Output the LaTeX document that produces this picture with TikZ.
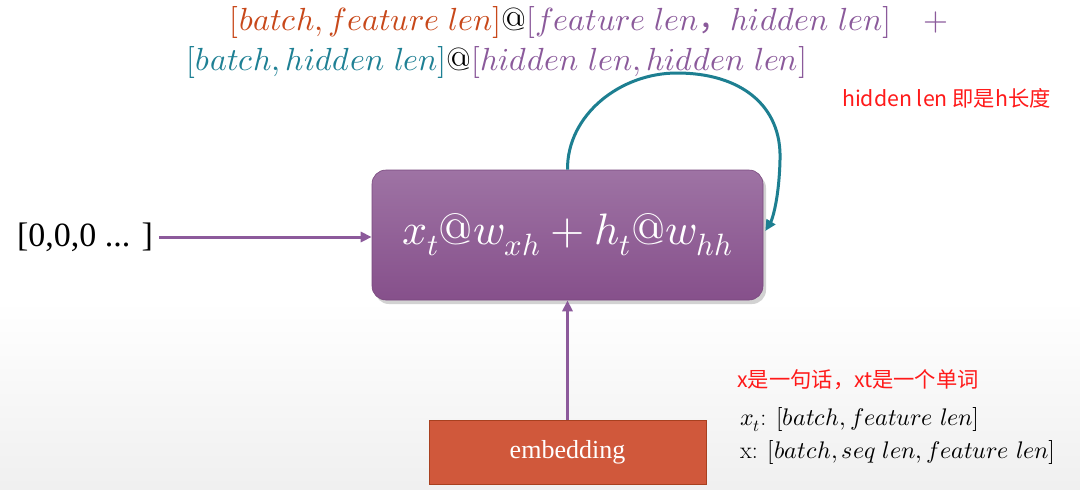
\documentclass[tikz,border=0pt]{standalone}
\usepackage{fontspec}
\usepackage{unicode-math}
\setmathfont{Latin Modern Math}
\newfontfamily\cjk{Noto Sans CJK SC}
\newfontfamily\tnr{Liberation Serif}
\usetikzlibrary{arrows.meta,shadows}
\definecolor{orangeT}{HTML}{C8481A}
\definecolor{purpleT}{HTML}{8B5A9B}
\definecolor{tealT}{HTML}{1E8094}
\definecolor{boxtop}{HTML}{9E73A4}
\definecolor{boxbot}{HTML}{86508B}
\definecolor{arrowP}{HTML}{8C5A9B}
\definecolor{loopT}{HTML}{1D7F91}
\definecolor{embfill}{HTML}{D0583B}
\definecolor{embdraw}{HTML}{A8401F}
\definecolor{redT}{HTML}{FF1A1A}
\tikzset{
  parrow/.style={draw=arrowP, line width=3pt, -{Triangle[length=11pt,width=10pt]}},
  looparrow/.style={draw=loopT, line width=3pt, -{Triangle[length=11pt,width=10pt]}},
  corebox/.style={rounded corners=14pt, minimum width=391pt, minimum height=130pt,
    top color=boxtop, bottom color=boxbot, draw=boxbot!90!black, line width=0.6pt,
    drop shadow={opacity=0.35, shadow xshift=3pt, shadow yshift=-4pt},
    text=white, font=\fontsize{44}{48}\selectfont},
  embbox/.style={minimum width=277pt, minimum height=64pt, fill=embfill, draw=embdraw,
    line width=1pt, text=white, font=\tnr\fontsize{26}{30}\selectfont},
  redlabel/.style={text=redT, font=\cjk\fontsize{21.3}{25}\selectfont, inner sep=0pt},
  mathlabel/.style={font=\fontsize{24}{28}\selectfont, inner sep=0pt, anchor=west},
  toplabel/.style={font=\fontsize{32}{36}\selectfont, inner sep=0pt}
}
\begin{document}
\begin{tikzpicture}[x=1pt,y=-1pt]
\useasboundingbox (0,0) rectangle (1080,490);
\fill[white] (0,0) rectangle (1080,300);
\shade[top color=white, bottom color=black!6] (0,300) rectangle (1080,490);

\node[toplabel] (top1) at (589,22) {\textcolor{orangeT}{$[batch, feature\ len]$}$@$\textcolor{purpleT}{$[feature\ len${\cjk ，}$hidden\ len]$\quad$+$}};
\node[toplabel] (top2) at (497,62) {\textcolor{tealT}{$[batch, hidden\ len]$}$@$\textcolor{purpleT}{$[hidden\ len, hidden\ len]$}};

\node[corebox] (core) at (567.5,235) {$x_t@w_{xh} + h_t@w_{hh}$};

\node[font=\tnr\fontsize{34}{38}\selectfont, inner sep=2pt] (zeros) at (85,237) {[0,0,0 ... ]};
\draw[parrow] ([xshift=4pt]zeros.east) -- (zeros.east -| core.west);

\node[embbox] (emb) at (567.5,452) {embedding};
\draw[parrow] (emb.north) -- (core.south);

\draw[looparrow] (core.north) .. controls (567,115) and (620,73) .. (677,73)
  .. controls (740,73) and (782,105) .. (780,160)
  .. controls (779,200) and (772,220) .. ([xshift=2pt,yshift=4pt]core.east);

\node[redlabel, anchor=west] (hl) at (842,98) {hidden len 即是h长度};
\node[redlabel, anchor=west] (xs) at (737,380) {x是一句话，xt是一个单词};
\node[mathlabel] (m1) at (740,420) {$x_t$: $[batch, feature\ len]$};
\node[mathlabel] (m2) at (740,452) {x: $[batch, seq\ len, feature\ len]$};
\end{tikzpicture}
\end{document}
